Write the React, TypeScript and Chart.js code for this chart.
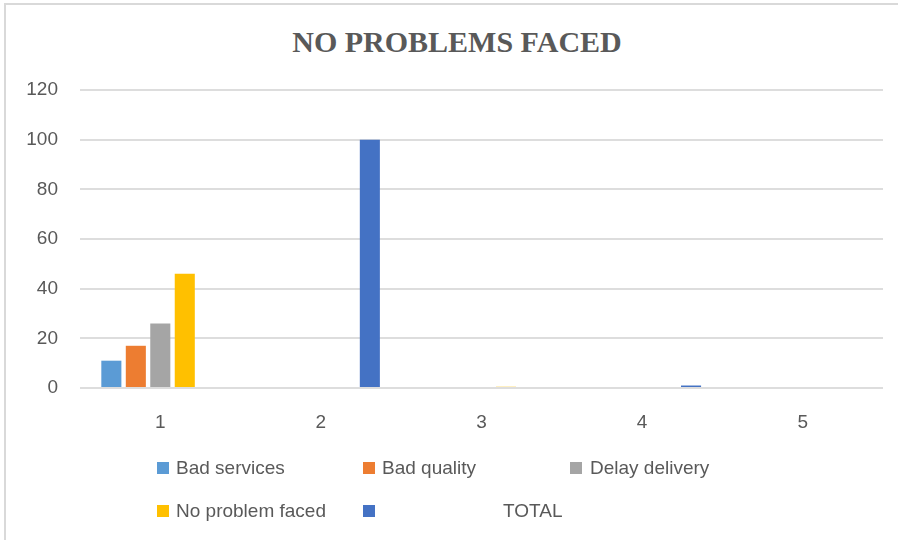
import React, { useEffect, useRef } from "react";
import { Chart, registerables } from "chart.js";

Chart.register(...registerables);

const categories = ["1", "2", "3", "4", "5"];
const badServices = [11, 0, 0, 0, 0];
const badQuality = [17, 0, 0, 0, 0];
const delayDelivery = [26, 0, 0, 0, 0];
const noProblemFaced = [46, 0, 0.5, 0, 0];
const total = [0, 100, 0, 1, 0];

const seriesNames = ["Bad services", "Bad quality", "Delay delivery", "No problem faced", "TOTAL"];
const seriesColors = ["#5B9BD5", "#ED7D31", "#A5A5A5", "#FFC000", "#4472C4"];
const seriesValues = [badServices, badQuality, delayDelivery, noProblemFaced, total];

const TEXT = "#595959";
const FONT = "'Liberation Sans', Arial, sans-serif";

export default function App() {
  const ref = useRef<HTMLCanvasElement | null>(null);

  useEffect(() => {
    document.body.style.margin = "0";
    const ctx = ref.current!;
    const chart = new Chart(ctx, {
      type: "bar",
      data: {
        labels: categories,
        datasets: seriesNames.map((name, i) => ({
          label: name,
          data: seriesValues[i],
          backgroundColor: seriesColors[i],
          borderWidth: 0,
          categoryPercentage: 0.762,
          barPercentage: 0.82,
        })),
      },
      options: {
        animation: false,
        responsive: false,
        maintainAspectRatio: false,
        layout: { padding: { left: 0, right: 15, top: 90, bottom: 92 } },
        plugins: {
          legend: { display: false },
          title: { display: false },
          tooltip: { enabled: false },
        },
        scales: {
          x: {
            grid: { display: false, drawTicks: false },
            border: { display: false },
            ticks: { color: TEXT, font: { family: FONT, size: 19 }, padding: 23 },
            afterFit: (s: any) => {
              s.height = 60;
            },
          },
          y: {
            min: 0,
            max: 120,
            ticks: { stepSize: 20, color: TEXT, font: { family: FONT, size: 19 }, padding: 22 },
            grid: { color: "#dddddd", lineWidth: 2, drawTicks: false },
            border: { display: false },
            afterFit: (s: any) => {
              s.width = 80;
            },
          },
        },
      },
    });
    return () => chart.destroy();
  }, []);

  const legendItem = (i: number, left: number, top: number, textLeft: number) => (
    <div key={i}>
      <div
        style={{
          position: "absolute",
          left,
          top: top - 6,
          width: 12,
          height: 12,
          background: seriesColors[i],
        }}
      />
      <div
        style={{
          position: "absolute",
          left: textLeft,
          top: top - 12,
          height: 24,
          lineHeight: "24px",
          fontFamily: FONT,
          fontSize: 19,
          color: TEXT,
          whiteSpace: "nowrap",
        }}
      >
        {seriesNames[i]}
      </div>
    </div>
  );

  return (
    <div
      style={{
        position: "relative",
        width: 898,
        height: 540,
        overflow: "hidden",
        background: "#ffffff",
      }}
    >
      <div
        style={{
          position: "absolute",
          left: 4,
          top: 3,
          width: 894,
          height: 537,
          borderTop: "2px solid #d9d9d9",
          borderLeft: "2px solid #d9d9d9",
          boxSizing: "border-box",
        }}
      />
      <div
        style={{
          position: "absolute",
          left: 0,
          width: 914,
          top: 24,
          textAlign: "center",
          fontFamily: "'Liberation Serif', 'Times New Roman', serif",
          fontWeight: "bold",
          fontSize: 30,
          lineHeight: "36px",
          color: TEXT,
        }}
      >
        NO PROBLEMS FACED
      </div>
      <canvas ref={ref} width={898} height={540} style={{ position: "absolute", left: 0, top: 0 }} />
      {legendItem(0, 157, 468, 176)}
      {legendItem(1, 363, 468, 382)}
      {legendItem(2, 570, 468, 590)}
      {legendItem(3, 157, 511, 176)}
      {legendItem(4, 363, 511, 503)}
    </div>
  );
}
